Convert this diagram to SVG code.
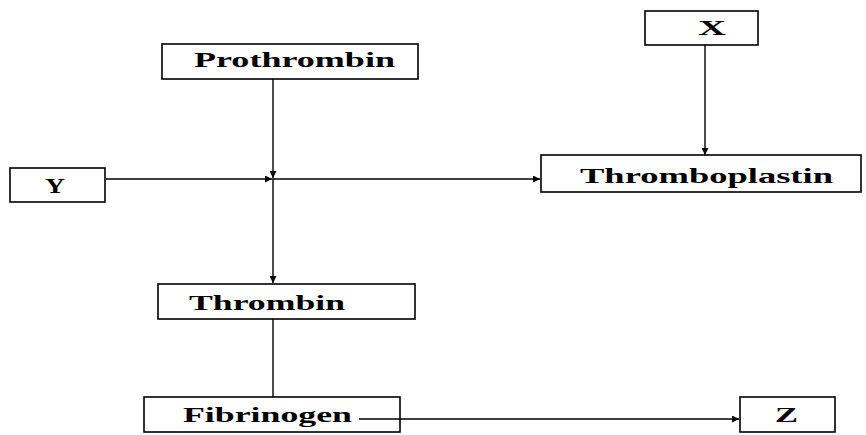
<svg xmlns="http://www.w3.org/2000/svg" width="866" height="435" viewBox="0 0 866 435">
<defs>
<marker id="arr" viewBox="0 0 10 10" refX="10" refY="5" markerWidth="7" markerHeight="7" markerUnits="userSpaceOnUse" orient="auto">
<path d="M0,0 L10,5 L0,10 Z" fill="#000"/>
</marker>
<style>
.box{fill:#fff;stroke:#000;stroke-width:1.6}
.lbl{font-family:"Liberation Serif","Times New Roman",serif;font-weight:bold;font-size:21px;fill:#000}
.ln{fill:none;stroke:#000;stroke-width:1.4}
</style>
</defs>
<rect width="866" height="435" fill="#fff"/>
<g id="connectors">
<line class="ln" x1="273" y1="79" x2="273" y2="178" marker-end="url(#arr)"/>
<line class="ln" x1="273" y1="178" x2="273" y2="283" marker-end="url(#arr)"/>
<line class="ln" x1="106" y1="179" x2="272" y2="179" marker-end="url(#arr)"/>
<line class="ln" x1="273" y1="179" x2="540" y2="179" marker-end="url(#arr)"/>
<line class="ln" x1="705" y1="45" x2="705" y2="155" marker-end="url(#arr)"/>
<line class="ln" x1="273" y1="319" x2="273" y2="397"/>
<line class="ln" x1="359" y1="419" x2="739" y2="419" marker-end="url(#arr)"/>
</g>
<g id="prothrombin">
<rect class="box" x="162" y="44" width="256" height="35"/>
<text class="lbl" x="194" y="67" textLength="201" lengthAdjust="spacingAndGlyphs">Prothrombin</text>
</g>
<g id="x">
<rect class="box" x="645" y="11" width="113" height="34"/>
<text class="lbl" x="698" y="35" textLength="28" lengthAdjust="spacingAndGlyphs">X</text>
</g>
<g id="y">
<rect class="box" x="10" y="168" width="95" height="34"/>
<text class="lbl" x="45" y="193" textLength="20" lengthAdjust="spacingAndGlyphs">Y</text>
</g>
<g id="thromboplastin">
<rect class="box" x="541" y="155" width="320" height="37"/>
<text class="lbl" x="580" y="183" textLength="253" lengthAdjust="spacingAndGlyphs">Thromboplastin</text>
</g>
<g id="thrombin">
<rect class="box" x="158" y="284" width="257" height="35"/>
<text class="lbl" x="189" y="310" textLength="156" lengthAdjust="spacingAndGlyphs">Thrombin</text>
</g>
<g id="fibrinogen">
<rect class="box" x="144" y="397" width="256" height="35" fill="none" style="fill:none"/>
<text class="lbl" x="183" y="422" textLength="169" lengthAdjust="spacingAndGlyphs">Fibrinogen</text>
</g>
<g id="z">
<rect class="box" x="740" y="397" width="95" height="35"/>
<text class="lbl" x="775" y="422" textLength="23" lengthAdjust="spacingAndGlyphs">Z</text>
</g>
</svg>
